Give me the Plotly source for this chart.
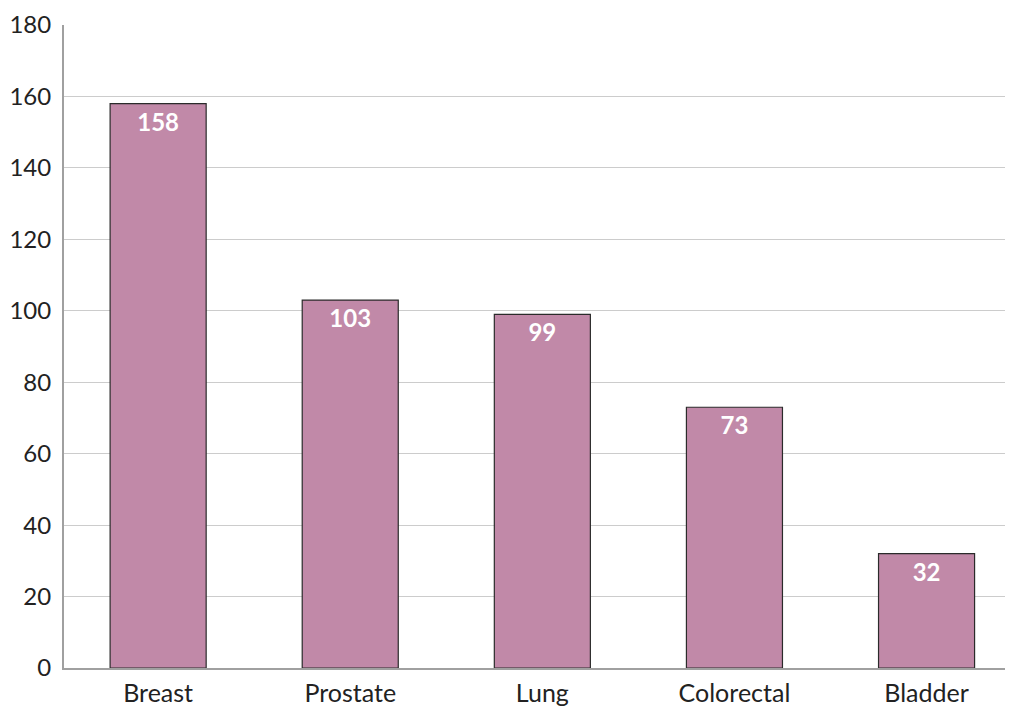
import plotly.graph_objects as go

categories = ["Breast", "Prostate", "Lung", "Colorectal", "Bladder"]
values = [158, 103, 99, 73, 32]
y_ticks = [0, 20, 40, 60, 80, 100, 120, 140, 160, 180]

FONT = "Lato, 'DejaVu Sans', sans-serif"

fig = go.Figure(go.Bar(
    x=categories,
    y=values,
    width=0.5,
    marker=dict(color="#c189a8", line=dict(color="#2b2b2b", width=1.2)),
    text=[str(v) for v in values],
    textposition="inside",
    insidetextanchor="end",
    textangle=0,
    textfont=dict(family=FONT, size=24, color="white", weight="bold"),
    cliponaxis=False,
))

fig.update_layout(
    width=1005, height=700,
    margin=dict(l=56, r=0, t=17, b=40, pad=0),
    paper_bgcolor="white", plot_bgcolor="white",
    showlegend=False,
    uniformtext=dict(mode=False),
)
fig.update_xaxes(
    range=[-0.49, 4.45],
    automargin=False,
    showgrid=False,
    showline=True, linecolor="#a0a0a0", linewidth=2,
    ticks="",
    tickfont=dict(family=FONT, size=25, color="#222222"),
    ticklabelstandoff=2,
)
fig.update_yaxes(
    range=[0, 180],
    automargin=False,
    tickvals=y_ticks,
    showgrid=True, gridcolor="#cccccc", gridwidth=1,
    showline=True, linecolor="#a0a0a0", linewidth=2,
    zeroline=False,
    ticks="",
    tickfont=dict(family=FONT, size=24, color="#222222"),
    ticklabelstandoff=6,
)

fig.write_html("out.html")
